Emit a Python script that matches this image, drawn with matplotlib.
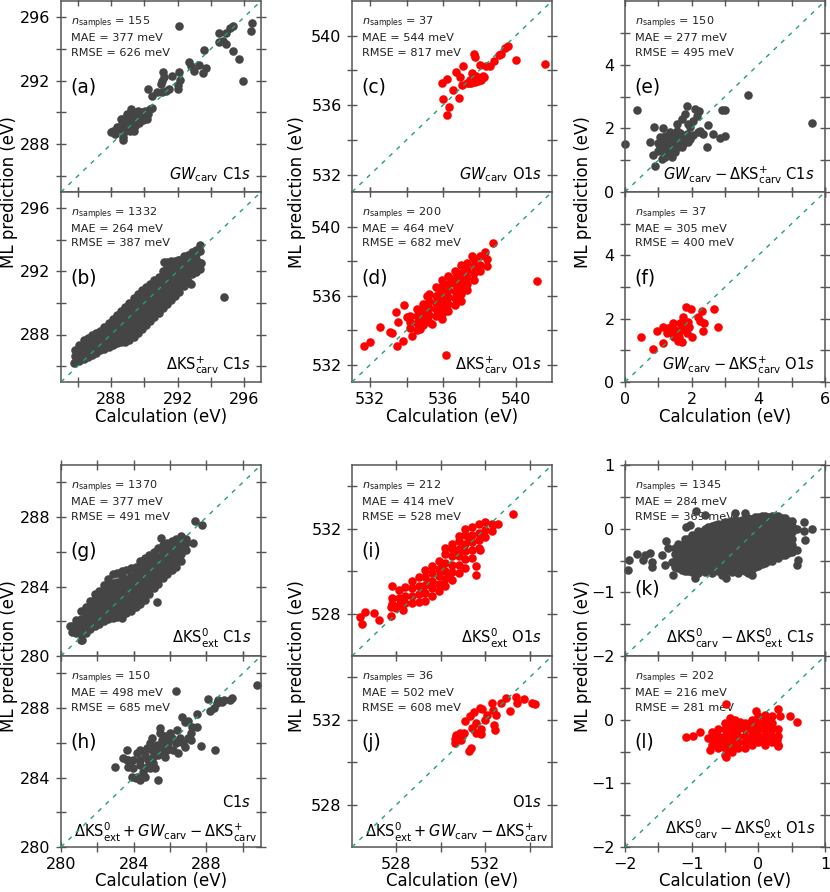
import matplotlib
matplotlib.use('Agg')
import matplotlib.pyplot as plt

plt.rcParams['font.family'] = 'DejaVu Sans'
plt.rcParams['mathtext.fontset'] = 'dejavusans'

GRAY = '#454545'
RED = '#ff0000'
DIAG = '#1fa07a'
SPINE = '#555555'

# ---------------- data ----------------
a_pts = [(292.1, 295.4), (296.44, 295.6), (296.4, 295.1), (295.34, 295.4), (295.14, 295.3),
         (294.5, 295.0), (294.9, 295.0), (294.7, 294.5), (294.5, 294.45), (294.9, 294.3),
         (295.34, 293.87), (295.7, 293.35), (295.9, 292.0), (293.6, 293.9), (293.7, 292.8),
         (292.66, 293.14), (292.8, 292.9), (293.0, 292.6), (293.5, 292.5), (293.26, 293.0),
         (292.1, 292.55), (292.14, 292.05), (292.0, 291.5), (292.0, 291.7), (291.14, 292.55),
         (291.2, 292.24), (291.06, 292.0), (291.0, 291.8), (291.66, 292.3), (291.5, 291.47),
         (291.3, 291.36), (290.74, 291.26), (290.44, 291.05), (290.2, 291.47), (291.04, 291.26),
         (288.0, 288.75), (288.24, 288.65), (288.44, 288.96), (288.74, 288.44), (288.78, 288.75),
         (288.94, 289.07), (289.04, 289.32), (289.14, 289.59), (289.24, 289.8), (289.34, 289.48),
         (289.44, 289.17), (289.54, 289.9), (289.64, 289.7), (289.74, 289.48), (289.84, 290.0),
         (289.94, 289.8), (290.04, 290.1), (290.14, 289.6), (290.24, 289.9), (290.34, 290.2),
         (290.44, 290.3), (289.18, 290.2), (288.94, 289.9), (288.84, 289.48), (288.64, 289.28),
         (288.54, 289.07), (288.34, 289.07), (289.14, 288.86), (289.34, 288.96), (289.54, 289.38),
         (289.74, 289.8), (289.3, 289.23), (289.1, 289.07), (289.64, 290.1), (289.9, 289.53),
         (288.58, 289.59), (288.7, 288.27), (289.4, 288.86), (288.74, 289.59), (288.14, 288.86),
         (289.0, 289.7), (289.44, 289.7), (289.7, 289.32)]

b_cols = [(285.85, [286.25, 286.65, 287.0]),
          (286.1, [286.35, 286.75, 287.1, 287.35]),
          (286.35, [286.45, 286.85, 287.25, 287.65]),
          (286.6, [286.6, 287.0, 287.4, 287.8]),
          (286.85, [286.7, 287.1, 287.5, 287.95]),
          (287.1, [286.85, 287.25, 287.65, 288.1]),
          (287.35, [287.0, 287.4, 287.8, 288.25]),
          (287.6, [287.1, 287.5, 287.9, 288.3, 288.5]),
          (287.85, [287.2, 287.6, 288.0, 288.4, 288.75]),
          (288.1, [287.35, 287.75, 288.15, 288.55, 289.0]),
          (288.35, [287.45, 287.85, 288.25, 288.65, 289.05, 289.25]),
          (288.6, [287.5, 287.9, 288.3, 288.7, 289.1, 289.5]),
          (288.85, [287.55, 287.95, 288.35, 288.75, 289.15, 289.55, 289.75]),
          (289.1, [287.65, 288.05, 288.45, 288.85, 289.25, 289.65, 290.0]),
          (289.35, [287.85, 288.25, 288.65, 289.05, 289.45, 289.85, 290.3]),
          (289.6, [288.1, 288.5, 288.9, 289.3, 289.7, 290.1, 290.55]),
          (289.85, [288.35, 288.75, 289.15, 289.55, 289.95, 290.35, 290.8]),
          (290.1, [288.6, 289.0, 289.4, 289.8, 290.2, 290.6, 291.0]),
          (290.35, [288.85, 289.25, 289.65, 290.05, 290.45, 290.85, 291.2]),
          (290.6, [289.1, 289.5, 289.9, 290.3, 290.7, 291.1, 291.45]),
          (290.85, [289.35, 289.75, 290.15, 290.55, 290.95, 291.35, 291.65]),
          (291.1, [289.65, 290.05, 290.45, 290.85, 291.25, 291.65, 292.0]),
          (291.35, [289.95, 290.35, 290.75, 291.15, 291.55, 291.95, 292.3, 292.6]),
          (291.6, [290.2, 290.6, 291.0, 291.4, 291.8, 292.2, 292.6]),
          (291.85, [290.45, 290.85, 291.25, 291.65, 292.05, 292.4, 292.65]),
          (292.1, [290.7, 291.1, 291.5, 291.9, 292.3, 292.7]),
          (292.35, [291.05, 291.45, 291.85, 292.25, 292.6, 292.95]),
          (292.6, [291.4, 291.8, 292.2, 292.6, 293.0]),
          (292.85, [291.8, 292.2, 292.6, 293.0, 293.2]),
          (293.1, [291.95, 292.35, 292.75, 293.1, 293.35]),
          (293.35, [292.15, 292.5, 293.3, 293.65])]
b_extra = [(292.8, 291.2), (294.8, 290.4), (293.4, 292.5), (291.2, 292.6),
           (291.6, 292.65), (292.0, 292.7), (285.8, 286.2)]

c_pts = [(539.6, 539.42), (539.42, 539.28), (539.17, 538.94), (539.07, 538.9), (538.8, 538.56),
         (538.6, 538.27), (538.38, 538.23), (540.0, 538.6), (541.64, 538.37), (537.7, 538.94),
         (537.75, 538.8), (538.03, 538.33), (537.1, 538.25), (536.7, 537.9), (536.93, 537.6),
         (535.94, 537.26), (536.23, 537.49), (537.07, 537.18), (536.58, 536.88), (536.87, 536.4),
         (536.03, 536.34), (536.34, 535.88), (536.25, 535.42), (537.62, 537.83), (537.8, 537.7),
         (537.47, 537.45), (537.66, 537.41), (537.88, 537.56), (538.2, 537.7), (538.08, 537.47),
         (537.53, 537.3), (537.75, 537.32), (537.42, 537.26), (537.94, 537.41), (537.3, 537.3),
         (538.25, 537.65), (537.7, 537.56)]

d_cols = [(534.2, [534.1, 534.5, 534.85]),
          (534.55, [534.0, 534.4, 534.8, 535.2]),
          (534.9, [534.3, 534.7, 535.1, 535.5]),
          (535.25, [534.5, 534.9, 535.3, 535.7, 536.1]),
          (535.6, [534.8, 535.2, 535.6, 536.0, 536.5]),
          (535.95, [534.95, 535.35, 535.75, 536.15, 536.55, 536.9]),
          (536.3, [535.1, 535.5, 535.9, 536.3, 536.7, 537.15]),
          (536.65, [535.45, 535.85, 536.25, 536.65, 537.05, 537.45]),
          (537.0, [535.7, 536.1, 536.5, 536.9, 537.3, 537.75]),
          (537.35, [536.3, 536.7, 537.1, 537.5, 537.9]),
          (537.7, [536.9, 537.3, 537.7, 538.15]),
          (538.05, [537.4, 537.8, 538.3]),
          (538.4, [537.7, 538.15])]
d_extra = [(538.76, 539.03), (541.15, 536.86), (536.17, 532.56), (531.64, 533.08),
           (531.97, 533.33), (532.52, 534.16), (533.07, 533.91), (533.22, 533.81),
           (533.48, 533.08), (533.44, 535.07), (533.88, 535.46), (534.0, 534.78),
           (533.8, 533.39), (533.52, 534.49), (535.39, 534.34), (535.95, 534.63),
           (534.72, 534.05), (534.3, 533.66), (538.3, 538.55), (537.6, 538.3),
           (535.1, 535.95), (535.8, 536.3), (536.5, 536.95), (537.2, 537.55),
           (536.1, 535.1), (536.8, 535.9)]

e_pts = [(0.01, 1.51), (0.37, 2.58), (3.68, 3.06), (5.6, 2.16), (2.91, 2.59), (3.0, 2.59),
         (3.01, 1.77), (2.85, 1.69), (2.65, 1.82), (2.45, 1.41), (2.5, 2.12), (0.91, 0.83),
         (0.85, 1.17), (0.87, 2.03), (1.15, 2.01), (1.2, 1.77), (0.75, 1.56), (1.85, 2.7),
         (2.1, 2.6), (2.23, 2.56), (2.15, 2.4), (1.8, 2.45), (1.7, 2.29), (1.55, 2.14),
         (1.9, 2.14), (1.95, 2.03), (2.05, 2.24), (2.25, 1.93), (2.35, 1.82), (2.2, 1.88),
         (1.55, 1.93), (1.35, 1.88), (1.25, 1.67), (1.15, 1.51), (1.05, 1.41), (1.13, 1.25),
         (1.25, 1.15), (1.35, 1.3), (1.45, 1.41), (1.55, 1.51), (1.65, 1.62), (1.75, 1.72),
         (1.85, 1.82), (1.95, 1.67), (1.7, 1.41), (1.5, 1.25), (1.4, 1.09), (1.2, 1.09),
         (1.1, 1.04), (1.6, 1.74), (1.35, 1.62), (1.3, 1.44), (1.75, 1.51), (1.9, 1.56),
         (1.05, 1.72), (1.45, 1.72), (1.0, 1.3), (1.2, 1.35), (1.4, 1.55), (1.6, 1.4),
         (1.8, 1.65), (1.65, 1.85), (1.5, 1.65), (2.05, 1.8), (1.25, 1.5), (1.0, 1.55)]

f_pts = [(0.47, 1.43), (0.83, 1.03), (0.95, 1.62), (1.15, 1.22), (1.13, 1.73), (1.3, 1.69),
         (1.4, 1.56), (1.47, 1.43), (1.5, 1.64), (1.6, 1.52), (1.58, 1.31), (1.7, 1.27),
         (1.67, 1.64), (1.65, 1.87), (1.73, 2.06), (1.8, 1.91), (1.83, 2.38), (1.97, 2.31),
         (1.87, 1.56), (1.93, 1.73), (2.0, 1.41), (2.25, 1.94), (2.3, 2.25), (2.37, 1.85),
         (2.35, 1.62), (2.67, 2.32), (2.78, 1.75), (1.53, 1.54), (1.45, 1.87), (1.75, 1.66),
         (1.85, 1.77), (1.25, 1.54), (1.63, 1.43), (1.72, 1.79), (1.9, 1.91), (1.35, 1.72),
         (2.2, 2.06)]

g_cols = [(280.6, [281.4, 281.75]),
          (280.85, [281.3, 281.7, 282.1]),
          (281.1, [280.95, 281.35, 281.75, 282.15, 282.6]),
          (281.35, [281.3, 281.7, 282.1, 282.5, 282.85]),
          (281.6, [281.55, 281.95, 282.35, 282.75, 283.15]),
          (281.85, [281.7, 282.1, 282.5, 282.9, 283.3, 283.55]),
          (282.1, [281.85, 282.25, 282.65, 283.05, 283.45, 283.75]),
          (282.35, [282.0, 282.4, 282.8, 283.2, 283.6, 284.1]),
          (282.6, [282.15, 282.55, 282.95, 283.35, 283.75, 284.15, 284.45]),
          (282.85, [282.2, 282.6, 283.0, 283.4, 283.8, 284.2, 284.7]),
          (283.1, [282.25, 282.65, 283.05, 283.45, 283.85, 284.25, 284.8]),
          (283.35, [282.2, 282.6, 283.0, 283.4, 283.8, 284.2, 284.6, 284.9]),
          (283.6, [282.45, 282.85, 283.25, 283.65, 284.05, 284.45, 284.95]),
          (283.85, [282.6, 283.0, 283.4, 283.8, 284.2, 284.6, 285.05]),
          (284.1, [282.8, 283.2, 283.6, 284.0, 284.4, 284.8, 285.15]),
          (284.35, [283.0, 283.4, 283.8, 284.2, 284.6, 285.0, 285.5]),
          (284.6, [283.2, 283.6, 284.0, 284.4, 284.8, 285.2, 285.65]),
          (284.85, [283.55, 283.95, 284.35, 284.75, 285.15, 285.55, 285.8]),
          (285.1, [283.9, 284.3, 284.7, 285.1, 285.5, 285.9, 286.0]),
          (285.35, [284.15, 284.55, 284.95, 285.35, 285.75, 286.2]),
          (285.6, [284.5, 284.9, 285.3, 285.7, 286.1, 286.4]),
          (285.85, [284.75, 285.15, 285.55, 285.95, 286.35, 286.5]),
          (286.1, [284.95, 285.35, 285.75, 286.15, 286.6]),
          (286.35, [285.15, 285.55, 285.95, 286.35, 286.75]),
          (286.6, [285.5, 285.9, 286.3, 286.7, 286.9]),
          (286.85, [286.1, 286.5, 286.75])]
g_extra = [(287.38, 287.78), (287.74, 287.55), (285.49, 286.78), (285.27, 283.13),
           (287.25, 286.53), (281.14, 280.92), (280.5, 281.7)]

h_pts = [(290.77, 289.33), (286.33, 289.0), (289.38, 288.56), (289.27, 288.47), (288.99, 288.47),
         (288.84, 288.33), (288.66, 288.47), (288.57, 288.27), (288.11, 288.5), (288.17, 287.85),
         (288.39, 287.99), (287.47, 287.64), (286.64, 287.51), (287.0, 287.28), (287.47, 286.89),
         (287.14, 286.55), (287.0, 286.26), (287.14, 286.16), (287.7, 285.82), (288.48, 285.59),
         (286.0, 286.55), (286.09, 286.26), (286.37, 286.74), (285.91, 285.78), (286.18, 285.59),
         (286.46, 285.4), (285.45, 286.55), (285.54, 286.16), (285.63, 285.87), (285.27, 285.59),
         (285.36, 285.3), (285.08, 285.2), (284.99, 285.59), (284.72, 285.68), (284.81, 285.01),
         (284.99, 286.26), (284.9, 285.97), (284.35, 285.59), (284.17, 285.4), (284.35, 285.01),
         (283.98, 285.01), (283.8, 284.82), (283.61, 285.01), (283.71, 284.63), (283.98, 284.53),
         (284.35, 284.72), (284.53, 284.34), (284.72, 284.63), (284.63, 284.05), (284.17, 284.05),
         (284.35, 283.86), (283.89, 284.05), (284.13, 283.96), (285.36, 283.86), (283.61, 285.59),
         (283.43, 285.11), (283.71, 285.01), (282.97, 284.63), (285.08, 284.82), (285.17, 284.53),
         (284.9, 284.53), (285.72, 285.2), (285.82, 285.59), (285.91, 285.97), (286.55, 286.26),
         (286.73, 285.97), (286.83, 285.78), (285.45, 286.83), (287.19, 286.93), (286.83, 287.22),
         (285.6, 285.5), (285.3, 285.9), (285.7, 286.4), (286.3, 286.0), (284.6, 285.3)]

i_cols = [(527.8, [528.45, 528.75]),
          (528.1, [528.4, 528.75, 529.1]),
          (528.4, [528.5, 528.85, 529.25]),
          (528.7, [528.5, 528.85, 529.2, 529.55]),
          (529.0, [528.55, 528.9, 529.3, 529.7]),
          (529.3, [528.6, 528.95, 529.35, 529.7, 530.05]),
          (529.6, [528.85, 529.2, 529.55, 529.9, 530.25]),
          (529.9, [529.05, 529.4, 529.75, 530.1, 530.5]),
          (530.2, [529.3, 529.65, 530.0, 530.4, 530.8, 531.1]),
          (530.5, [529.6, 529.95, 530.3, 530.7, 531.05, 531.3]),
          (530.8, [529.9, 530.3, 530.7, 531.05, 531.4, 531.65]),
          (531.1, [530.15, 530.55, 530.95, 531.3, 531.7, 532.0]),
          (531.4, [530.6, 531.0, 531.35, 531.7, 532.1]),
          (531.7, [531.1, 531.45, 531.8, 532.2]),
          (532.0, [531.6, 531.95, 532.3]),
          (532.3, [531.9, 532.2])]
i_extra = [(533.24, 532.69), (526.34, 527.86), (526.46, 527.5), (526.57, 528.05),
           (526.97, 528.02), (527.2, 527.7), (527.8, 529.3), (527.74, 527.9), (527.74, 528.33),
           (527.99, 528.25), (528.29, 528.17), (531.56, 530.24), (531.56, 529.82),
           (531.77, 531.0), (532.57, 532.2), (532.34, 532.17), (529.45, 529.5),
           (530.05, 530.3), (530.65, 530.9), (531.25, 531.5), (529.15, 529.1), (530.35, 529.8)]

j_pts = [(530.62, 530.92), (530.62, 531.08), (530.69, 531.17), (530.84, 531.39), (530.92, 531.28),
         (531.02, 531.39), (530.92, 531.04), (530.66, 531.28), (530.84, 531.12), (531.07, 531.95),
         (531.26, 530.54), (531.37, 530.65), (531.32, 532.17), (531.47, 532.38), (531.41, 531.6),
         (531.59, 531.86), (531.59, 531.36), (531.77, 532.54), (531.85, 532.49), (531.82, 531.55),
         (531.82, 531.33), (531.97, 531.99), (532.07, 532.22), (532.3, 532.8), (532.34, 532.46),
         (532.37, 531.75), (532.42, 531.51), (532.49, 532.22), (532.72, 532.77), (532.91, 533.0),
         (533.09, 532.41), (533.39, 533.08), (533.42, 532.77), (533.72, 532.96), (534.08, 532.8),
         (534.23, 532.72)]

k_cols = [(-1.25, [-0.6, -0.5, -0.4, -0.3]),
          (-1.20, [-0.62, -0.52, -0.42, -0.32, -0.24]),
          (-1.15, [-0.65, -0.55, -0.45, -0.35, -0.25]),
          (-1.10, [-0.66, -0.56, -0.46, -0.36, -0.26, -0.17]),
          (-1.05, [-0.67, -0.57, -0.47, -0.37, -0.27, -0.17]),
          (-1.00, [-0.68, -0.58, -0.48, -0.38, -0.28, -0.18, -0.10]),
          (-0.95, [-0.7, -0.6, -0.5, -0.4, -0.3, -0.2, -0.1]),
          (-0.90, [-0.70, -0.60, -0.50, -0.40, -0.30, -0.20, -0.10, -0.04]),
          (-0.85, [-0.65, -0.55, -0.45, -0.35, -0.25, -0.15, -0.05]),
          (-0.80, [-0.68, -0.58, -0.48, -0.38, -0.28, -0.18, -0.08, 0.00]),
          (-0.75, [-0.65, -0.55, -0.45, -0.35, -0.25, -0.15, -0.05, 0.02]),
          (-0.70, [-0.70, -0.60, -0.50, -0.40, -0.30, -0.20, -0.10, 0.04]),
          (-0.65, [-0.65, -0.55, -0.45, -0.35, -0.25, -0.15, -0.05, 0.05]),
          (-0.60, [-0.66, -0.56, -0.46, -0.36, -0.26, -0.16, -0.06, 0.08]),
          (-0.55, [-0.72, -0.62, -0.52, -0.42, -0.32, -0.22, -0.12, -0.02, 0.08]),
          (-0.50, [-0.70, -0.60, -0.50, -0.40, -0.30, -0.20, -0.10, 0.00, 0.10]),
          (-0.45, [-0.65, -0.55, -0.45, -0.35, -0.25, -0.15, -0.05, 0.05, 0.10]),
          (-0.40, [-0.68, -0.58, -0.48, -0.38, -0.28, -0.18, -0.08, 0.02, 0.12]),
          (-0.35, [-0.65, -0.55, -0.45, -0.35, -0.25, -0.15, -0.05, 0.05, 0.13]),
          (-0.30, [-0.70, -0.60, -0.50, -0.40, -0.30, -0.20, -0.10, 0.00, 0.12]),
          (-0.25, [-0.65, -0.55, -0.45, -0.35, -0.25, -0.15, -0.05, 0.05, 0.14]),
          (-0.20, [-0.66, -0.56, -0.46, -0.36, -0.26, -0.16, -0.06, 0.04, 0.13]),
          (-0.15, [-0.70, -0.60, -0.50, -0.40, -0.30, -0.20, -0.10, 0.00, 0.10, 0.17]),
          (-0.10, [-0.64, -0.54, -0.44, -0.34, -0.24, -0.14, -0.04, 0.06, 0.15]),
          (-0.05, [-0.60, -0.50, -0.40, -0.30, -0.20, -0.10, 0.00, 0.10, 0.18]),
          (0.00, [-0.58, -0.48, -0.38, -0.28, -0.18, -0.08, 0.02, 0.12, 0.18]),
          (0.05, [-0.55, -0.45, -0.35, -0.25, -0.15, -0.05, 0.05, 0.15, 0.20]),
          (0.10, [-0.54, -0.44, -0.34, -0.24, -0.14, -0.04, 0.06, 0.16, 0.20]),
          (0.15, [-0.50, -0.40, -0.30, -0.20, -0.10, 0.00, 0.10, 0.19]),
          (0.20, [-0.50, -0.40, -0.30, -0.20, -0.10, 0.00, 0.10, 0.20]),
          (0.25, [-0.45, -0.35, -0.25, -0.15, -0.05, 0.05, 0.15, 0.20]),
          (0.30, [-0.46, -0.36, -0.26, -0.16, -0.06, 0.04, 0.14, 0.20]),
          (0.35, [-0.42, -0.32, -0.22, -0.12, -0.02, 0.08, 0.17]),
          (0.40, [-0.42, -0.32, -0.22, -0.12, -0.02, 0.08, 0.16]),
          (0.45, [-0.38, -0.28, -0.18, -0.08, 0.02, 0.12]),
          (0.50, [-0.36, -0.26, -0.16, -0.06, 0.04, 0.12])]
k_extra = [(-1.94, -0.49), (-1.96, -0.65), (-1.82, -0.4), (-1.7, -0.41), (-1.63, -0.39),
           (-1.6, -0.52), (-1.6, -0.6), (-1.73, -0.49), (-1.45, -0.41), (-1.38, -0.2),
           (-1.35, -0.31), (-1.3, -0.52), (-1.28, -0.73), (-1.4, -0.57), (-1.08, 0.03),
           (-1.03, 0.06), (-0.93, 0.27), (-0.8, 0.21), (-0.95, -0.78), (-0.35, 0.24),
           (-0.2, 0.24), (-0.48, -0.78), (-0.1, -0.73), (0.8, 0.0), (0.68, 0.11), (0.7, -0.18),
           (0.58, -0.34), (0.6, -0.49), (0.58, -0.57), (0.68, -0.03), (0.58, 0.0)]

l_cols = [(-0.7, [-0.2, -0.3, -0.4]),
          (-0.6, [-0.15, -0.25, -0.35, -0.45]),
          (-0.5, [-0.05, -0.15, -0.25, -0.35, -0.45, -0.55]),
          (-0.4, [0.0, -0.1, -0.2, -0.3, -0.4, -0.5]),
          (-0.3, [-0.05, -0.15, -0.25, -0.35, -0.45]),
          (-0.2, [-0.05, -0.15, -0.25, -0.35, -0.45]),
          (-0.1, [0.0, -0.1, -0.2, -0.3, -0.4]),
          (0.0, [0.05, -0.05, -0.15, -0.25, -0.35]),
          (0.1, [0.0, -0.1, -0.2, -0.3, -0.4]),
          (0.2, [-0.05, -0.15, -0.25, -0.35]),
          (0.3, [-0.15, -0.25, -0.4])]
l_extra = [(-0.49, 0.24), (-1.08, -0.28), (-0.98, -0.26), (-0.87, -0.19), (-0.75, -0.29),
           (-0.68, -0.21), (-0.73, -0.48), (-0.6, -0.42), (-0.48, -0.58), (-0.43, 0.02),
           (-0.35, -0.01), (-0.28, -0.03), (-0.18, -0.11), (-0.13, -0.06), (-0.03, 0.13),
           (0.1, 0.07), (0.2, 0.05), (0.29, 0.16), (0.33, 0.05), (0.47, 0.05), (0.58, -0.03),
           (0.3, -0.42), (0.28, -0.32), (0.18, -0.21), (0.2, -0.11),
           (-0.55, -0.3), (-0.45, -0.2), (-0.35, -0.4), (-0.25, -0.1), (-0.15, -0.3),
           (-0.05, -0.2), (0.05, -0.3), (0.15, -0.05), (-0.65, -0.35), (-0.45, -0.48)]

stats = {
    'a': (155, 377, 626), 'b': (1332, 264, 387), 'c': (37, 544, 817),
    'd': (200, 464, 682), 'e': (150, 277, 495), 'f': (37, 305, 400),
    'g': (1370, 377, 491), 'h': (150, 498, 685), 'i': (212, 414, 528),
    'j': (36, 502, 608), 'k': (1345, 284, 369), 'l': (202, 216, 281),
}


def from_cols(cols, extra=()):
    pts = []
    for x, ys in cols:
        pts += [(x, y) for y in ys]
    return pts + list(extra)


data = {
    'a': a_pts, 'b': from_cols(b_cols, b_extra), 'c': c_pts,
    'd': from_cols(d_cols, d_extra), 'e': e_pts, 'f': f_pts,
    'g': from_cols(g_cols, g_extra), 'h': h_pts, 'i': from_cols(i_cols, i_extra),
    'j': j_pts, 'k': from_cols(k_cols, k_extra), 'l': from_cols(l_cols, l_extra),
}
colors = {'a': GRAY, 'b': GRAY, 'c': RED, 'd': RED, 'e': GRAY, 'f': RED,
          'g': GRAY, 'h': GRAY, 'i': RED, 'j': RED, 'k': GRAY, 'l': RED}

labels = {
    'a': r'$GW_{\mathrm{carv}}\ \mathrm{C1}s$',
    'b': r'$\Delta\mathrm{KS}^{+}_{\mathrm{carv}}\ \mathrm{C1}s$',
    'c': r'$GW_{\mathrm{carv}}\ \mathrm{O1}s$',
    'd': r'$\Delta\mathrm{KS}^{+}_{\mathrm{carv}}\ \mathrm{O1}s$',
    'e': r'$GW_{\mathrm{carv}}-\Delta\mathrm{KS}^{+}_{\mathrm{carv}}\ \mathrm{C1}s$',
    'f': r'$GW_{\mathrm{carv}}-\Delta\mathrm{KS}^{+}_{\mathrm{carv}}\ \mathrm{O1}s$',
    'g': r'$\Delta\mathrm{KS}^{0}_{\mathrm{ext}}\ \mathrm{C1}s$',
    'i': r'$\Delta\mathrm{KS}^{0}_{\mathrm{ext}}\ \mathrm{O1}s$',
    'k': r'$\Delta\mathrm{KS}^{0}_{\mathrm{carv}}-\Delta\mathrm{KS}^{0}_{\mathrm{ext}}\ \mathrm{C1}s$',
    'l': r'$\Delta\mathrm{KS}^{0}_{\mathrm{carv}}-\Delta\mathrm{KS}^{0}_{\mathrm{ext}}\ \mathrm{O1}s$',
}
combo_label = r'$\Delta\mathrm{KS}^{0}_{\mathrm{ext}}+GW_{\mathrm{carv}}-\Delta\mathrm{KS}^{+}_{\mathrm{carv}}$'

# ---------------- layout ----------------
W, H = 830, 892
fig = plt.figure(figsize=(W / 100, H / 100), dpi=100)

col_left = [61, 352, 625]
row_top = {'top1': 1, 'top2': 192, 'bot1': 465, 'bot2': 656}
heights = {'top1': 191, 'top2': 190, 'bot1': 191, 'bot2': 191}

specs = [
    ('a', 0, 'top1', (285, 297), [288, 292, 296], [286, 290, 294], [288, 292, 296], [286, 290, 294], False),
    ('b', 0, 'top2', (285, 297), [288, 292, 296], [286, 290, 294], [288, 292, 296], [286, 290, 294], True),
    ('c', 1, 'top1', (531, 542), [532, 536, 540], [534, 538], [532, 536, 540], [534, 538], False),
    ('d', 1, 'top2', (531, 542), [532, 536, 540], [534, 538], [532, 536, 540], [534, 538], True),
    ('e', 2, 'top1', (0, 6), [0, 2, 4, 6], [1, 3, 5], [0, 2, 4], [1, 3, 5], False),
    ('f', 2, 'top2', (0, 6), [0, 2, 4, 6], [1, 3, 5], [0, 2, 4], [1, 3, 5], True),
    ('g', 0, 'bot1', (280, 291), [280, 284, 288], [282, 286, 290], [280, 284, 288], [282, 286, 290], False),
    ('h', 0, 'bot2', (280, 291), [280, 284, 288], [282, 286, 290], [280, 284, 288], [282, 286, 290], True),
    ('i', 1, 'bot1', (526, 535), [528, 532], [530, 534], [528, 532], [530, 534], False),
    ('j', 1, 'bot2', (526, 535), [528, 532], [530, 534], [528, 532], [530, 534], True),
    ('k', 2, 'bot1', (-2, 1), [-2, -1, 0, 1], [-1.5, -0.5, 0.5], [-2, -1, 0, 1], [-1.5, -0.5, 0.5], False),
    ('l', 2, 'bot2', (-2, 1), [-2, -1, 0, 1], [-1.5, -0.5, 0.5], [-2, -1, 0], [-1.5, -0.5, 0.5], True),
]

letter_y = {'k': 0.35}

for key, col, row, lim, xmaj, xmin, ymaj, ymin, showx in specs:
    top = row_top[row]
    h = heights[row]
    ax = fig.add_axes([col_left[col] / W, 1 - (top + h) / H, 200 / W, h / H])
    pts = data[key]
    xs = [p[0] for p in pts]
    ys = [p[1] for p in pts]
    ax.scatter(xs, ys, s=38, color=colors[key], linewidths=0, zorder=2, clip_on=False)
    ax.plot(lim, lim, ls=(0, (3.2, 4.2)), color=DIAG, lw=1.0, zorder=3)
    ax.set_xlim(lim)
    ax.set_ylim(lim)
    ax.set_xticks(xmaj)
    ax.set_xticks(xmin, minor=True)
    ax.set_yticks(ymaj)
    ax.set_yticks(ymin, minor=True)
    ax.tick_params(which='both', direction='inout', top=True, right=True,
                   length=7, width=1.0, color=SPINE, labelsize=11.5, pad=4)
    ax.tick_params(axis='x', labelbottom=showx)
    for sp in ax.spines.values():
        sp.set_color(SPINE)
        sp.set_linewidth(1.1)
    n, mae, rmse = stats[key]
    tx = dict(transform=ax.transAxes, fontsize=8.1, va='center', ha='left', zorder=1, color='#222222')
    ax.text(0.048, 0.885, r'$n_{\mathrm{samples}}$' + f' = {n}', **tx)
    ax.text(0.048, 0.805, f'MAE = {mae} meV', **tx)
    ax.text(0.048, 0.730, f'RMSE = {rmse} meV', **tx)
    ax.text(0.048, letter_y.get(key, 0.548), f'({key})', transform=ax.transAxes,
            fontsize=13.5, va='center', ha='left', zorder=1)
    if key in labels:
        ax.text(0.95, 0.09, labels[key], transform=ax.transAxes, fontsize=10.5,
                va='center', ha='right', zorder=1)
    else:
        sp_lab = r'$\mathrm{C1}s$' if key == 'h' else r'$\mathrm{O1}s$'
        ax.text(0.95, 0.237, sp_lab, transform=ax.transAxes, fontsize=10.5,
                va='center', ha='right', zorder=1)
        ax.text(0.525, 0.075, combo_label, transform=ax.transAxes, fontsize=10.5,
                va='center', ha='center', zorder=1)

# shared axis labels
for cx in (9, 297, 583):
    for cy in (192, 656):
        fig.text(cx / W, 1 - cy / H, 'ML prediction (eV)', rotation=90,
                 ha='center', va='center', fontsize=12)
for cx in (161, 452, 725):
    for cy in (417, 881):
        fig.text(cx / W, 1 - cy / H, 'Calculation (eV)', ha='center', va='center', fontsize=12)

fig.savefig('out.png', dpi=100)
